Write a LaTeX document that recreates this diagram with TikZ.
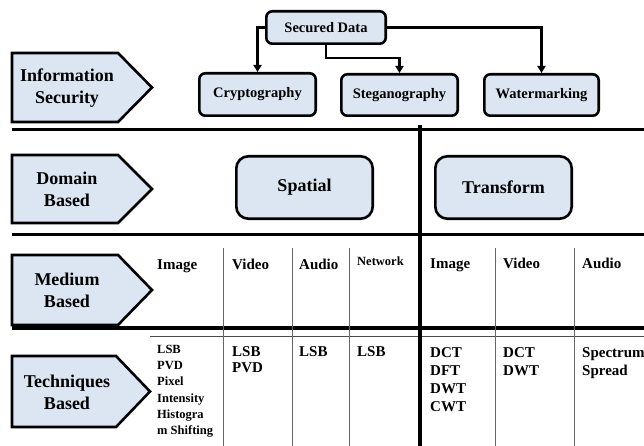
\documentclass[tikz,border=0pt]{standalone}
\usepackage{fontspec}
\setmainfont{Liberation Serif}
\usetikzlibrary{arrows.meta}
\definecolor{boxblue}{HTML}{DCE6F2}
\begin{document}
\begin{tikzpicture}[x=1pt,y=-1pt,
  lbl/.style={font=\bfseries\fontsize{18}{22}\selectfont, align=center, inner sep=0pt},
  pent/.style={draw=black, fill=boxblue, line width=2.6pt, line join=miter},
  rbox/.style={draw=black, fill=boxblue, line width=2.6pt, rounded corners=6pt, inner sep=0pt,
    font=\bfseries\fontsize{14.5}{16}\selectfont},
  bigbox/.style={rbox, rounded corners=12pt, font=\bfseries\fontsize{18}{20}\selectfont},
  conn/.style={line width=2.4pt, -{Triangle[length=7pt,width=8pt]}},
  sepline/.style={line width=3pt},
  colline/.style={draw=black!60, line width=1pt},
  med/.style={font=\bfseries\fontsize{15}{17}\selectfont, anchor=base west, inner sep=0pt},
  tech/.style={font=\bfseries\fontsize{15}{18}\selectfont, anchor=north west, align=left, inner sep=0pt},
]
\useasboundingbox (0,0) rectangle (644,446);

% separators
\draw[sepline] (12,130) -- (644,130);
\draw[sepline] (12,234) -- (644,234);
\draw[line width=4pt] (12,328) -- (644,328);
\draw[black!70, line width=1pt] (150,336) -- (644,336);
\draw[line width=3.4pt] (420,125) -- (420,446);
\foreach \xx in {223,292,349,495,574} \draw[colline] (\xx,248) -- (\xx,446);

% row labels
\draw[pent] (12,53) -- (118,53) -- (152,87.5) -- (118,122) -- (12,122) -- cycle;
\node[lbl] (infosec) at (67,88) {Information\\Security};
\draw[pent] (12,155) -- (118,155) -- (152,189) -- (118,223) -- (12,223) -- cycle;
\node[lbl] (domain) at (67,189) {Domain\\Based};
\draw[pent] (12,255) -- (118,255) -- (152,290) -- (118,325) -- (12,325) -- cycle;
\node[lbl] (medium) at (67,290) {Medium\\Based};
\draw[pent] (12,356) -- (116,356) -- (150,391.5) -- (116,427) -- (12,427) -- cycle;
\node[lbl] (techn) at (67,392) {Techniques\\Based};

% top boxes
\node[rbox, minimum width=119.4pt, minimum height=32.4pt] (sd) at (326,27.5) {Secured Data};
\node[rbox, minimum width=116.4pt, minimum height=42.4pt] (crypto) at (257.5,94.5) {Cryptography};
\node[rbox, minimum width=116.4pt, minimum height=41.4pt] (stego) at (399.5,95) {Steganography};
\node[rbox, minimum width=114.4pt, minimum height=41.4pt] (water) at (541.5,95) {Watermarking};

\draw[conn] (sd.west) -| (crypto.north);
\draw[conn] (sd.south) -- ++(0,13) -| (stego.north);
\draw[conn] (sd.east) -| (water.north);

% domain boxes
\node[bigbox, minimum width=136.4pt, minimum height=62.4pt] (spatial) at (304.5,187.5) {Spatial};
\node[bigbox, minimum width=136.4pt, minimum height=62.4pt] (transform) at (503.5,187.5) {Transform};

% medium row
\node[med] (m1) at (157,269) {Image};
\node[med] (m2) at (232,269) {Video};
\node[med] (m3) at (299,269) {Audio};
\node[med, font=\bfseries\fontsize{12.5}{14}\selectfont] (m4) at (357,265) {Network};
\node[med] (m5) at (430,268) {Image};
\node[med] (m6) at (503,268) {Video};
\node[med] (m7) at (582,268) {Audio};

% techniques row
\node[tech, font=\bfseries\fontsize{12.5}{16.2}\selectfont] (t1) at (157,345) {LSB\\PVD\\Pixel\\Intensity\\Histogra\\m Shifting};
\node[tech, font=\bfseries\fontsize{15}{16.5}\selectfont] (t2) at (232,346) {LSB\\PVD};
\node[tech] (t3) at (299,346) {LSB};
\node[tech] (t4) at (357,346) {LSB};
\node[tech] (t5) at (430,347) {DCT\\DFT\\DWT\\CWT};
\node[tech] (t6) at (503,347) {DCT\\DWT};
\node[tech] (t7) at (582,347) {Spectrum\\Spread};
\end{tikzpicture}
\end{document}
